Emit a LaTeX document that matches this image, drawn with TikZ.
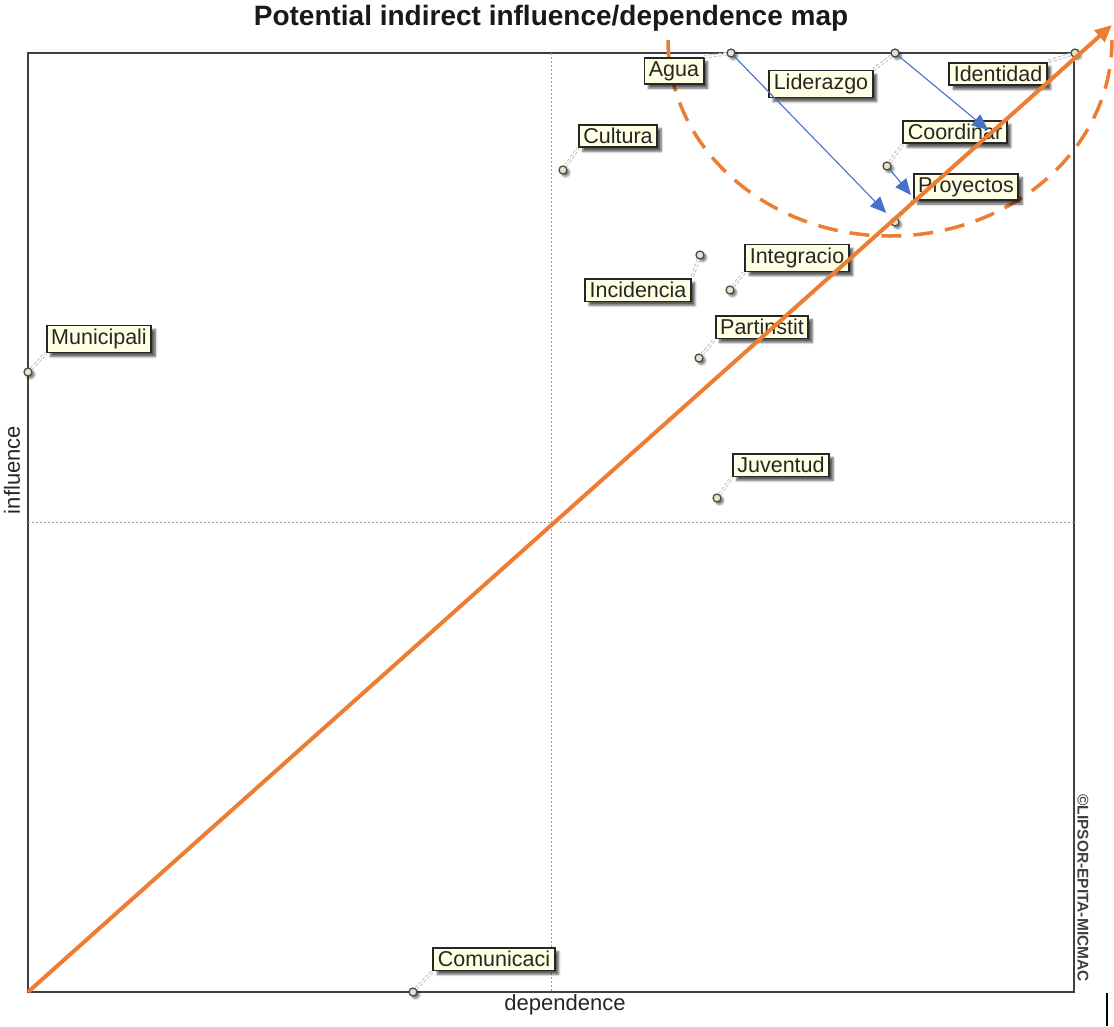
\documentclass[tikz,border=0pt]{standalone}
\usepackage{fontspec}
\setmainfont{Liberation Sans}
\usetikzlibrary{arrows.meta,shadows.blur}
\definecolor{micorange}{HTML}{ED7D31}
\definecolor{micblue}{HTML}{4472C4}
\definecolor{lblfill}{HTML}{FFFFE3}
\definecolor{ptfill}{HTML}{E4E4CC}
\begin{document}
\begin{tikzpicture}[x=1pt,y=-1pt,
  lbl/.style={draw=black!85, line width=1.8pt, fill=lblfill, text=black!85,
    font=\fontsize{21.5}{24}\selectfont, inner xsep=4.5pt, inner ysep=3.5pt,
    blur shadow={shadow xshift=4pt, shadow yshift=-4pt, shadow blur steps=6, shadow opacity=65}},
  pt/.style={circle, inner sep=0pt, minimum size=8pt, draw=black!70, line width=1.3pt, fill=ptfill,
    blur shadow={shadow xshift=2.5pt, shadow yshift=-2.5pt, shadow blur steps=4, shadow opacity=55}},
  leader/.style={draw=gray!55, line width=0.9pt, double=white, double distance=1.6pt, dash pattern=on 3pt off 2pt},
  infl/.style={draw=micblue, line width=1.1pt, -{Triangle[length=16pt,width=14pt]}},
  axis/.style={font=\fontsize{22}{25}\selectfont, text=black!85}]
\useasboundingbox (0,0) rectangle (1114,1026);

% title
\node[font=\bfseries\fontsize{28}{31}\selectfont, text=black!90] (title) at (551,18) {Potential indirect influence/dependence map};

% frame and quadrant lines
\draw[black!75, line width=1.5pt] (28,53) rectangle (1074,992);
\draw[gray!80, line width=0.7pt, dash pattern=on 2pt off 2pt] (551,53) -- (551,992);
\draw[gray!80, line width=0.7pt, dash pattern=on 2pt off 2pt] (28,522) -- (1074,522);

% axis titles and credit
\node[axis, rotate=90] (ylab) at (12,470) {influence};
\node[axis] (xlab) at (565,1005) {dependence};
\node[rotate=-90, font=\bfseries\fontsize{15.5}{17}\selectfont, text=black!75] (credit) at (1083,888) {©LIPSOR-EPITA-MICMAC};
\draw[black, line width=1.3pt] (1107,993) -- (1107,1026);

% dashed zone of key variables
\draw[micorange, line width=3.5pt, dash pattern=on 20pt off 12pt]
  (668,40) arc[start angle=180, end angle=0, x radius=222, y radius=196];

% variable points
\node[pt] (pAgua) at (731,53) {};
\node[pt] (pLid) at (895,53) {};
\node[pt] (pIden) at (1075,53) {};
\node[pt] (pCoord) at (887,166) {};
\node[pt] (pProy) at (895,222) {};
\node[pt] (pCult) at (563,170) {};
\node[pt] (pInteg) at (730,290) {};
\node[pt] (pInci) at (700,255) {};
\node[pt] (pPart) at (699,358) {};
\node[pt] (pMuni) at (28,372) {};
\node[pt] (pJuv) at (717,498) {};
\node[pt] (pCom) at (413,992) {};

% variable labels
\node[lbl] (Agua) at (674,71) {Agua};
\node[lbl] (Lid) at (821,84) {Liderazgo};
\node[lbl] (Iden) at (998,74) {Identidad};
\node[lbl] (Coord) at (955,132) {Coordinar};
\node[lbl] (Proy) at (966,187) {Proyectos};
\node[lbl] (Cult) at (618,136) {Cultura};
\node[lbl] (Integ) at (797,258) {Integracio};
\node[lbl] (Inci) at (638,290) {Incidencia};
\node[lbl] (Part) at (762,327) {Partinstit};
\node[lbl] (Muni) at (99,339) {Municipali};
\node[lbl] (Juv) at (781,465) {Juventud};
\node[lbl] (Com) at (494,959) {Comunicaci};

% leaders from points to labels
\draw[leader] (pAgua) -- (Agua.north east);
\draw[leader] (pLid) -- (Lid.north east);
\draw[leader] (pIden) -- (Iden.north east);
\draw[leader] (pCoord) -- (Coord.south west);
\draw[leader] (pProy) -- (Proy.south west);
\draw[leader] (pCult) -- (Cult.south west);
\draw[leader] (pInteg) -- (Integ.south west);
\draw[leader] (pInci) -- (Inci.north east);
\draw[leader] (pPart) -- (Part.south west);
\draw[leader] (pMuni) -- (Muni.south west);
\draw[leader] (pJuv) -- (Juv.south west);
\draw[leader] (pCom) -- (Com.south west);

% indirect influences
\coordinate (tipCoord) at (988,130);
\coordinate (tipProy) at (911,195);
\draw[infl, shorten >=8pt] (pAgua) -- (pProy);
\draw[infl] (pLid) -- (tipCoord);
\draw[infl] (pCoord) -- (tipProy);

% diagonal
\coordinate (orig) at (28,992);
\coordinate (diagtip) at (1112,25);
\draw[micorange, line width=4pt, -{Triangle[length=17pt,width=15pt]}] (orig) -- (diagtip);
\end{tikzpicture}
\end{document}
